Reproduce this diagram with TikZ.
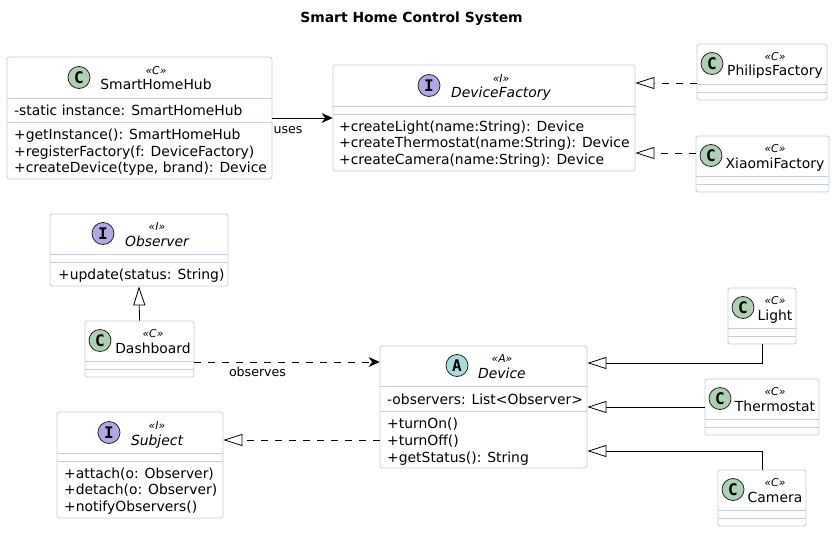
\documentclass[tikz,border=0pt]{standalone}
\usepackage{fontspec}
\setmainfont{DejaVu Sans}
\newfontfamily\iconfont{DejaVu Sans Mono}
\usepackage{xcolor}
\usetikzlibrary{arrows.meta}
\definecolor{edgeblue}{RGB}{196,204,222}
\definecolor{iconC}{RGB}{173,209,178}
\definecolor{iconI}{RGB}{180,167,229}
\definecolor{iconA}{RGB}{169,220,223}
\tikzset{
  classbox/.style={draw=edgeblue, fill=white, line width=0.8pt, rounded corners=2.5pt, inner sep=0pt},
  icon/.style={draw=black!85, line width=0.8pt, circle, minimum size=22pt, inner sep=0pt, font=\iconfont\bfseries\fontsize{16}{16}\selectfont},
  stereo/.style={inner sep=0pt, font=\itshape\fontsize{10.8}{11}\selectfont},
  nameC/.style={inner sep=0pt, text height=12pt, text depth=2pt, font=\fontsize{13.9}{14}\selectfont},
  nameI/.style={nameC, font=\itshape\fontsize{13.9}{14}\selectfont},
  nameA/.style={nameI},
  member/.style={anchor=west, inner sep=0pt, text height=12pt, text depth=2pt, font=\fontsize{13.9}{14}\selectfont},
  edgelabel/.style={inner sep=0pt, text height=12pt, text depth=2pt, font=\fontsize{12.6}{14}\selectfont},
  realize/.style={-{Triangle[open, fill=white, length=19pt, width=12pt]}, line width=0.8pt},
  depends/.style={-{Stealth[length=11pt, width=10pt, inset=3.5pt]}, line width=0.8pt},
  dashpat/.style={dash pattern=on 7pt off 7pt}
}
\begin{document}
\begin{tikzpicture}[x=1pt, y=-1pt]
\useasboundingbox (0,0) rectangle (834,532);
% Title
\node[inner sep=0pt, text height=12pt, text depth=2pt, font=\bfseries\fontsize{13.9}{14}\selectfont] (title) at (411.5,18) {Smart Home Control System};
% Class boxes: left/top, size, two divider rows, icon x, text x, kind
\foreach \name/\x/\y/\w/\h/\da/\db/\ix/\tx/\kind/\txt in {
  hub/7/57/265/122/98/122/79/156/C/SmartHomeHub,
  factory/333/65/302/106/106/114/429/501/I/DeviceFactory,
  philips/697/44/130/56/84/92/712/775/C/PhilipsFactory,
  xiaomi/696/136/133/56/176/184/711/775/C/XiaomiFactory,
  observer/50/214/178/72/254/262/103/157/I/Observer,
  dashboard/85/321/109/56/361/369/100/153/C/Dashboard,
  subject/57/412/166/106/453/461/109/157/I/Subject,
  device/380/346/207/122/386/411/457/502/A/Device,
  light/728/288/68/56/328/336/743/775/C/Light,
  thermostat/705/379/114/56/419/427/720/775/C/Thermostat,
  camera/718/470/88/56/510/518/733/775/C/Camera} {
  \node[classbox, minimum width=\w pt, minimum height=\h pt] (\name) at ({\x+\w/2},{\y+\h/2}) {};
  \draw[edgeblue, line width=0.8pt] (\name.west |- 0,\da) -- (\name.east |- 0,\da);
  \draw[edgeblue, line width=0.8pt] (\name.west |- 0,\db) -- (\name.east |- 0,\db);
  \node[icon, fill=icon\kind] (\name-icon) at (\ix,\da-20.5) {\kind};
  \node[stereo] (\name-stereo) at (\tx,\da-27) {«\kind»};
  \node[name\kind] (\name-title) at (\tx,\da-13) {\txt};
}
% Members
\node[member] (hub-a) at (14,110) {-static instance: SmartHomeHub};
\node[member] (hub-b) at (14,134) {+getInstance(): SmartHomeHub};
\node[member] (hub-c) at (14,151) {+registerFactory(f: DeviceFactory)};
\node[member] (hub-d) at (14,167) {+createDevice(type, brand): Device};
\node[member] (factory-a) at (339,126) {+createLight(name:String): Device};
\node[member] (factory-b) at (339,142) {+createThermostat(name:String): Device};
\node[member] (factory-c) at (339,159) {+createCamera(name:String): Device};
\node[member] (observer-a) at (58,274) {+update(status: String)};
\node[member] (subject-a) at (64,473) {+attach(o: Observer)};
\node[member] (subject-b) at (64,489) {+detach(o: Observer)};
\node[member] (subject-c) at (64,506) {+notifyObservers()};
\node[member] (device-a) at (387,399) {-observers: List<Observer>};
\node[member] (device-b) at (387,423) {+turnOn()};
\node[member] (device-c) at (387,440) {+turnOff()};
\node[member] (device-d) at (387,457) {+getStatus(): String};
% Connectors
\draw[depends] (hub.east |- 0,118) -- (factory.west |- 0,118);
\node[edgelabel] (uses) at (288,128) {uses};
\draw[realize, dashpat] (philips.west |- 0,83) -- (factory.east |- 0,83);
\draw[realize, dashpat] (xiaomi.west |- 0,153) -- (factory.east |- 0,153);
\draw[realize] (dashboard.north) -- (observer.south);
\draw[depends, dashpat] (dashboard.east |- 0,362) -- (device.west |- 0,362);
\node[edgelabel] (observes) at (257.5,371) {observes};
\draw[realize, dashpat] (device.west |- 0,440) -- (subject.east |- 0,440);
\draw[realize] (light.south) |- (device.east |- 0,363);
\draw[realize] (thermostat.west |- 0,407) -- (device.east |- 0,407);
\draw[realize] (camera.north) |- (device.east |- 0,451);
\end{tikzpicture}
\end{document}
